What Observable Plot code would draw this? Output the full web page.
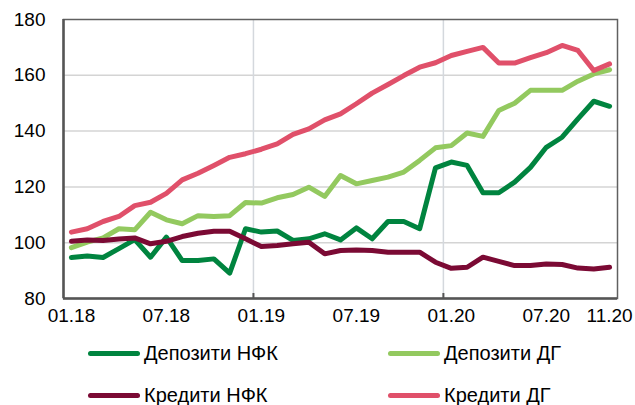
<!DOCTYPE html>
<html><head><meta charset="utf-8">
<script src="https://cdn.jsdelivr.net/npm/d3@7"></script>
<script src="https://cdn.jsdelivr.net/npm/@observablehq/plot@0.6"></script>
<style>
body{margin:0;background:#fff;font-family:"Liberation Sans",Arial,sans-serif;}
#chart{position:relative;width:635px;height:405px;overflow:hidden;background:#fff}
.item{position:absolute;display:flex;align-items:center;font-size:20px;color:#000;white-space:nowrap;height:24px}
.sw{display:inline-block;width:52px;height:5px;border-radius:3px;margin-right:4px}
</style></head><body><div id="chart"></div>
<script>
const months = ["01.18","02.18","03.18","04.18","05.18","06.18","07.18","08.18","09.18","10.18","11.18","12.18",
"01.19","02.19","03.19","04.19","05.19","06.19","07.19","08.19","09.19","10.19","11.19","12.19",
"01.20","02.20","03.20","04.20","05.20","06.20","07.20","08.20","09.20","10.20","11.20"];
const depositsNFC = [94.7,95.2,94.7,97.9,101.1,94.8,102.0,93.6,93.6,94.2,89.1,105.0,
103.8,104.2,100.8,101.4,103.2,101.0,105.3,101.4,107.6,107.6,105.0,126.8,
128.9,127.7,117.9,117.9,121.7,127.0,134.2,137.8,144.4,150.7,148.9];
const depositsHH = [98.2,100.2,101.7,105.0,104.6,110.9,108.2,106.8,109.7,109.4,109.7,114.4,
114.2,116.1,117.3,119.9,116.6,124.1,121.1,122.3,123.5,125.3,129.5,134.0,
134.8,139.3,138.1,147.4,150.0,154.6,154.6,154.6,157.9,160.5,162.0];
const loansNFC = [100.5,101.0,100.8,101.3,101.7,99.6,100.5,102.2,103.4,104.1,104.1,101.4,
98.6,99.0,99.6,100.2,96.0,97.2,97.4,97.2,96.6,96.6,96.6,93.0,
90.8,91.2,94.8,93.3,91.8,91.8,92.4,92.2,90.9,90.6,91.2];
const loansHH = [103.8,105.0,107.6,109.4,113.3,114.5,117.7,122.5,124.9,127.7,130.6,131.9,
133.5,135.4,138.8,140.8,144.0,146.2,149.8,153.6,156.7,159.9,162.9,164.5,
167.1,168.6,170.0,164.4,164.4,166.3,168.1,170.7,168.9,161.7,164.1];
const seriesNames = ["Депозити НФК","Депозити ДГ","Кредити НФК","Кредити ДГ"];
const seriesColors = ["#00843f","#93c95f","#7b0a34","#e0506a"];
const seriesValues = [depositsNFC, depositsHH, loansNFC, loansHH];
const xTickLabels = ["01.18","07.18","01.19","07.19","01.20","07.20","11.20"];
const yTicks = [80,100,120,140,160,180];
const yGrid = [100,120,140,160];
const xGridMonths = ["01.19","01.20"];

const rows = seriesNames.flatMap((name, s) => seriesValues[s].map((v, i) => ({name, i, v})));
const xGrid = xGridMonths.map(m => months.indexOf(m) - 0.5);

const plot = Plot.plot({
  width: 635, height: 330,
  marginLeft: 63, marginRight: 18, marginTop: 19, marginBottom: 32,
  x: {domain: [-0.5, months.length - 0.5], label: null},
  y: {domain: [80, 180], label: null},
  color: {domain: seriesNames, range: seriesColors},
  style: {fontFamily: '"Liberation Sans", Arial, sans-serif', fontSize: "19px", color: "#000", background: "#fff"},
  marks: [
    Plot.ruleY(yGrid, {stroke: "#d4d4d4", strokeWidth: 1.5}),
    Plot.ruleX(xGrid, {stroke: "#d4d8dd", strokeWidth: 1.5}),
    Plot.line(rows, {x: "i", y: "v", z: "name", stroke: "name", strokeWidth: 5, strokeLinejoin: "round", strokeLinecap: "round"}),
    Plot.frame({stroke: "#606060", strokeWidth: 1.5}),
    Plot.ruleX([-0.5], {stroke: "#555", strokeWidth: 2.5}),
    Plot.ruleY([80], {stroke: "#555", strokeWidth: 2.5}),
    Plot.ruleX(xGrid, {y1: 80, y2: 81.8, stroke: "#555", strokeWidth: 2}),
    Plot.axisY({ticks: yTicks, tickSize: 0, tickPadding: 18, fontSize: 19, label: null}),
    Plot.axisX({ticks: xTickLabels.map(m => months.indexOf(m)), tickFormat: i => months[i], tickSize: 0, tickPadding: 10, fontSize: 19, label: null})
  ]
});
const chart = document.getElementById("chart");
chart.appendChild(plot);
const pos = [[88,341],[388,341],[88,383],[388,383]];
seriesNames.forEach((n, k) => {
  const d = document.createElement("div");
  d.className = "item";
  d.style.left = pos[k][0] + "px";
  d.style.top = pos[k][1] + "px";
  d.innerHTML = `<span class="sw" style="background:${seriesColors[k]}"></span><span>${n}</span>`;
  chart.appendChild(d);
});
</script></body></html>
